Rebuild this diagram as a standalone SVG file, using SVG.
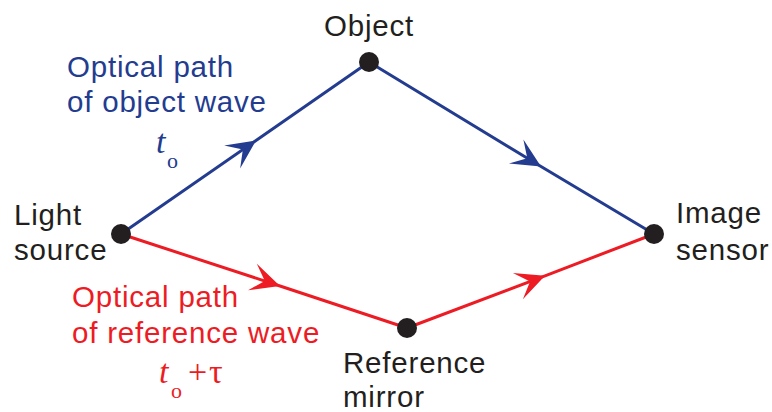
<svg xmlns="http://www.w3.org/2000/svg" width="772" height="412" viewBox="0 0 772 412">
<style>
.lbl{font-family:"Liberation Sans",Arial,sans-serif;font-size:29.5px;letter-spacing:0.8px;fill:#231f20}
.blue{fill:#233c8f}
.red{fill:#ed1c24}
.math{font-family:"Liberation Serif","Times New Roman",serif;font-size:34px}
.sub{font-family:"Liberation Serif","Times New Roman",serif;font-size:22px}
.dot{fill:#231f20}
.pb{fill:none;stroke:#233c8f;stroke-width:3}
.pr{fill:none;stroke:#ed1c24;stroke-width:3}
</style>
<defs>
<marker id="ab" markerUnits="userSpaceOnUse" orient="auto" markerWidth="40" markerHeight="40" viewBox="-34 -20 40 40" refX="0" refY="0" overflow="visible">
<path d="M0,0 L-29,-14 L-16,0 L-29,14 Z" fill="#233c8f"/>
</marker>
<marker id="ar" markerUnits="userSpaceOnUse" orient="auto" markerWidth="40" markerHeight="40" viewBox="-34 -20 40 40" refX="0" refY="0" overflow="visible">
<path d="M0,0 L-29,-14 L-16,0 L-29,14 Z" fill="#ed1c24"/>
</marker>
</defs>
<g id="connectors">
<path class="pb" d="M121,234 L256,140.5 L369,62" marker-mid="url(#ab)"/>
<path class="pb" d="M369,62 L541,166.5 L654,234" marker-mid="url(#ab)"/>
<path class="pr" d="M121,234 L280,286 L407,328" marker-mid="url(#ar)"/>
<path class="pr" d="M407,328 L545,275.8 L654,234" marker-mid="url(#ar)"/>
</g>
<g id="light-source">
<circle class="dot" cx="121" cy="234" r="10"/>
<text class="lbl" x="14" y="225">Light</text>
<text class="lbl" x="14" y="260">source</text>
</g>
<g id="object">
<circle class="dot" cx="369" cy="62" r="10"/>
<text class="lbl" x="369" y="36" text-anchor="middle">Object</text>
</g>
<g id="image-sensor">
<circle class="dot" cx="654" cy="234" r="10"/>
<text class="lbl" x="676" y="223">Image</text>
<text class="lbl" x="676" y="260">sensor</text>
</g>
<g id="reference-mirror">
<circle class="dot" cx="407" cy="328" r="10"/>
<text class="lbl" x="343" y="373">Reference</text>
<text class="lbl" x="343" y="407">mirror</text>
</g>
<g id="object-wave-label">
<text class="lbl blue" x="67" y="77">Optical path</text>
<text class="lbl blue" x="67" y="112">of object wave</text>
<text class="math blue" x="156" y="153" font-style="italic">t</text>
<text class="sub blue" x="167" y="168">o</text>
</g>
<g id="reference-wave-label">
<text class="lbl red" x="72" y="307">Optical path</text>
<text class="lbl red" x="72" y="343">of reference wave</text>
<text class="math red" x="159" y="383" font-style="italic">t</text>
<text class="sub red" x="171" y="398">o</text>
<text class="math red" x="188" y="383">+</text>
<text class="math red" x="209" y="383">τ</text>
</g>
</svg>
